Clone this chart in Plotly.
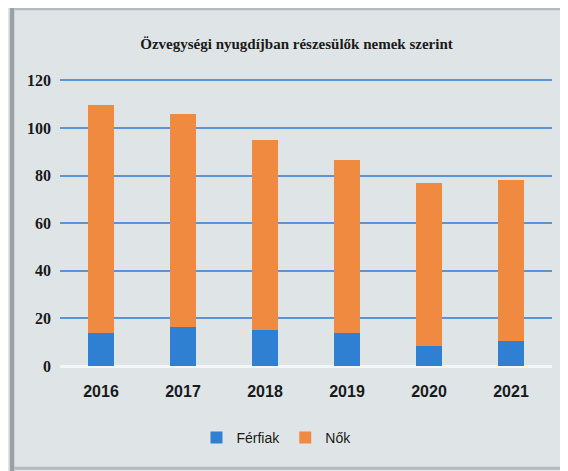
"""Özvegységi nyugdíjban részesülők nemek szerint – stacked bars."""

import plotly.graph_objects as go

_SERIF = "'Liberation Serif', 'DejaVu Serif', serif"
_SANS = "'Liberation Sans Narrow', 'Liberation Sans', sans-serif"

years = ["2016", "2017", "2018", "2019", "2020", "2021"]
ferfiak = [14, 16.5, 15, 14, 8.5, 10.5]
nok = [95.5, 89.5, 80, 72.5, 68.5, 67.5]

_BLUE = "#2f80d2"
_ORANGE = "#f08a40"
_BG = "#dfe5e7"

fig = go.Figure()
fig.add_trace(go.Bar(x=years, y=ferfiak, name="Férfiak", marker=dict(color=_BLUE, line_width=0)))
fig.add_trace(go.Bar(x=years, y=nok, name="Nők", marker=dict(color=_ORANGE, line_width=0)))

# scanned frame: grey border on the left, top and bottom
shapes = [
    dict(type="rect", xref="paper", yref="paper", x0=-0.102, x1=-0.093, y0=-0.37, y1=1.27,
         fillcolor="#9aa0a4", line_width=0, layer="below"),
    dict(type="rect", xref="paper", yref="paper", x0=-0.093, x1=1.1, y0=1.235, y1=1.255,
         fillcolor="#b4babd", line_width=0, layer="below"),
    dict(type="rect", xref="paper", yref="paper", x0=-0.093, x1=1.1, y0=-0.36, y1=-0.35,
         fillcolor="#b4babd", line_width=0, layer="below"),
]

fig.update_layout(
    barmode="stack",
    bargap=0.68,
    title=dict(
        text="<b>Özvegységi nyugdíjban részesülők nemek szerint</b>",
        font=dict(size=15, color="#1a1a1a", family=_SERIF),
        x=0.508, xanchor="center", y=0.925, yanchor="middle",
    ),
    xaxis=dict(
        showgrid=False, showline=False, ticks="",
        tickfont=dict(size=16, color="#1a1a1a", family=_SANS, weight="bold"),
        ticklabelstandoff=14,
    ),
    yaxis=dict(
        range=[0, 121], dtick=20,
        gridcolor="#5b93d3", gridwidth=2,
        zeroline=True, zerolinecolor="#f4f6f7", zerolinewidth=3,
        tickfont=dict(size=16, color="#1a1a1a", family=_SERIF, weight="bold"),
        ticklabelstandoff=8,
    ),
    legend=dict(
        orientation="h", x=0.44, xanchor="center", y=-0.25, yanchor="middle",
        font=dict(size=14, color="#1a1a1a", family=_SANS),
        itemwidth=30, traceorder="normal",
    ),
    showlegend=True,
    paper_bgcolor=_BG,
    plot_bgcolor=_BG,
    width=568, height=471,
    margin=dict(l=52, r=24, t=70, b=113),
    shapes=shapes,
)

fig.write_html("out.html")
